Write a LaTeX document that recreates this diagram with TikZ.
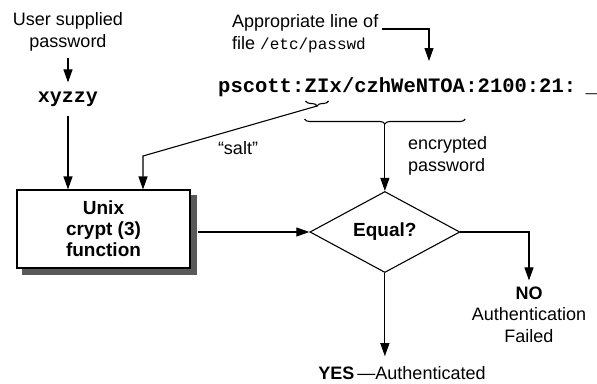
\documentclass[tikz,border=0pt]{standalone}
\usepackage{fontspec}
\setmainfont{Liberation Sans}
\setsansfont{Liberation Sans}
\setmonofont{Liberation Mono}
\usetikzlibrary{arrows.meta,decorations.pathreplacing,shapes.geometric,calc}
\begin{document}
\begin{tikzpicture}[x=1pt,y=-1pt,
  lbl/.style={font=\fontsize{18}{21.5}\selectfont, inner sep=0pt, align=center},
  pw/.style={font=\fontsize{20.5}{24}\selectfont\ttfamily\bfseries, inner sep=0pt, anchor=base west},
  conn/.style={line width=1.1pt, -{Triangle[length=13pt,width=9pt]}},
  brc/.style={line width=1.1pt, decorate, decoration={brace, amplitude=5pt, mirror}},
  cryptbox/.style={draw, line width=1.1pt, fill=white, minimum width=173pt, minimum height=78pt, inner sep=0pt,
    align=center, font=\fontsize{19}{21}\selectfont\bfseries},
  shade/.style={fill=black!65},
  decision/.style={diamond, draw, line width=1.1pt, minimum width=150pt, minimum height=81pt, inner sep=0pt,
    font=\fontsize{19}{21}\selectfont\bfseries},
]
\useasboundingbox[fill=white] (0,0) rectangle (597,383);

% top left
\node[lbl] (user) at (68,32) {User supplied\\password};
\node[font=\fontsize{20}{24}\selectfont\ttfamily\bfseries, inner sep=0pt] (xyzzy) at (68,99) {xyzzy};

% top right
\node[lbl, align=left, anchor=west, font=\fontsize{18}{22}\selectfont] (appr) at (232,34)
  {Appropriate line of\\file {\fontsize{16}{22}\selectfont\ttfamily /etc/passwd}};
\coordinate (pwdArrow) at (429,61);

% password line
\node[pw] (p1) at (218,92) {pscott:};
\node[pw] (p2) at (p1.base east) {ZI};
\node[pw] (p3) at (p2.base east) {x/czhWeNTOA};
\node[pw] (p4) at (p3.base east) {:2100:21:};
\node[pw] (p5) at ($(p4.base east)+(9,0)$) {\_};

% braces
\draw[brc] ($(p2.base west)+(1,9)$) -- ($(p2.base east)+(-1,9)$);
\coordinate (saltTip) at ($(p2.base west)!0.5!(p2.base east)+(0,14)$);
\draw[brc] ($(p2.base west)+(0,27)$) -- ($(p3.base east)+(0,27)$);
\coordinate (encTip) at ($(p2.base west)!0.5!(p3.base east)+(0,32)$);
\coordinate (saltBend) at (143,156);

\node[lbl] (salt) at (238,148) {“salt”};
\node[lbl, align=left, anchor=west] (enc) at (408,156) {encrypted\\password};

% box and decision
\node[cryptbox] (crypt) at (103.5,229) {Unix\\crypt (3)\\function};
\fill[shade] ($(crypt.north east)+(0.55,6)$) rectangle ($(crypt.south east)+(6.5,6.5)$);
\fill[shade] ($(crypt.south west)+(6,0.55)$) rectangle ($(crypt.south east)+(6.5,6.5)$);
\coordinate (eqc) at (0,232);
\node[decision] (eq) at (encTip |- eqc) {Equal?};

% outcomes
\node[lbl] (no) at (529,314.5) {\textbf{NO}\\Authentication\\Failed};
\node[lbl] (yes) at (402,373) {\textbf{YES}\,—Authenticated};

% connectors
\draw[conn, shorten <=7pt, shorten >=9pt] (user) -- (xyzzy);
\draw[conn, shorten <=9pt] (xyzzy) -- (xyzzy |- crypt.north);
\draw[conn] ([shift={(4pt,5pt)}]appr.east) -| (pwdArrow);
\draw[conn] (saltTip) -- (saltBend) -- (saltBend |- crypt.north);
\draw[conn] (encTip) -- (eq.north);
\draw[conn, shorten <=7pt] (crypt.east |- eq.west) -- (eq.west);
\draw[conn, shorten >=6pt] (eq.east) -| (no.north);
\draw[conn, shorten >=10pt] (eq.south) -- (eq.south |- yes.north);
\end{tikzpicture}
\end{document}
